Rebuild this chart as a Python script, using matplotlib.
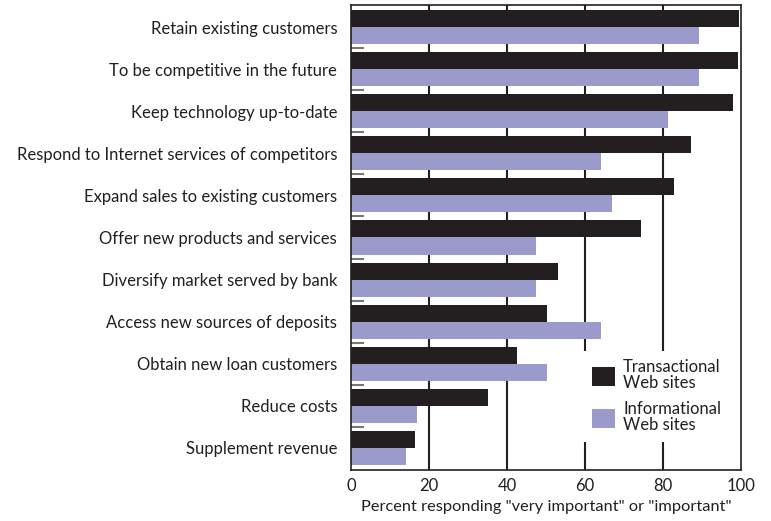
import matplotlib.pyplot as plt
import numpy as np

plt.rcParams['font.family'] = ['Lato', 'DejaVu Sans']

categories = [
    'Retain existing customers',
    'To be competitive in the future',
    'Keep technology up-to-date',
    'Respond to Internet services of competitors',
    'Expand sales to existing customers',
    'Offer new products and services',
    'Diversify market served by bank',
    'Access new sources of deposits',
    'Obtain new loan customers',
    'Reduce costs',
    'Supplement revenue',
]
transactional = [99.5, 99.2, 97.9, 87.2, 82.8, 74.4, 53.1, 50.3, 42.6, 35.1, 16.4]
informational = [89.2, 89.2, 81.3, 64.1, 66.9, 47.4, 47.4, 64.1, 50.3, 16.9, 14.1]

dark = '#231f20'
lilac = '#9a9acb'

fig = plt.figure(figsize=(7.71, 5.21), dpi=100)
ax = fig.add_axes([0.4553, 0.0979, 0.5058, 0.8925])

y = np.arange(len(categories))
h = 0.405
ax.barh(y - h / 2, transactional, height=h, color=dark, label='Transactional\nWeb sites', zorder=2)
ax.barh(y + h / 2, informational, height=h, color=lilac, label='Informational\nWeb sites', zorder=2)

ax.set_xlim(0, 100)
ax.set_ylim(len(categories) - 1 + 0.525, -0.525)
ax.set_xticks([0, 20, 40, 60, 80, 100])
ax.tick_params(axis='x', length=0, labelsize=12, pad=6, colors='#231f20')
ax.set_yticks(y)
ax.set_yticklabels(categories, fontsize=12, color='#231f20')
ax.tick_params(axis='y', which='major', length=0, pad=10)
ax.set_yticks(y[:-1] + 0.5, minor=True)
ax.tick_params(axis='y', which='minor', direction='in', length=9, width=1.5, color='#777777')

for v in [20, 40, 60, 80]:
    ax.axvline(v, color=dark, lw=1.5, zorder=1)
for s in ax.spines.values():
    s.set_color(dark)
    s.set_linewidth(1.2)

ax.set_xlabel('Percent responding "very important" or "important"', fontsize=11.8, color='#231f20', labelpad=4)

leg = ax.legend(loc='upper left', bbox_to_anchor=(0.574, 0.274), fontsize=12, frameon=True,
                fancybox=False, edgecolor='none', facecolor='white', framealpha=1,
                handlelength=1.4, handleheight=1.4, handletextpad=0.5, labelspacing=0.6,
                borderpad=0.5)
for t in leg.get_texts():
    t.set_color('#231f20')
    t.set_linespacing(1.0)
leg.set_zorder(3)

fig.savefig('out.png', dpi=100)
